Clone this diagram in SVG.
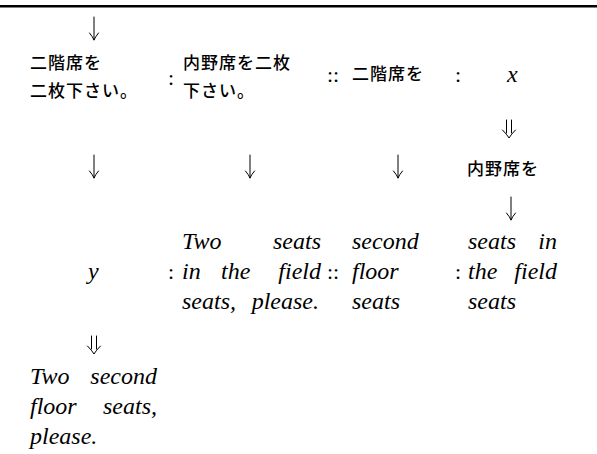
<svg xmlns="http://www.w3.org/2000/svg" xmlns:xlink="http://www.w3.org/1999/xlink" width="597" height="454" viewBox="0 0 597 454">
<style>
.jp{font-family:"Noto Sans CJK JP","Noto Sans CJK SC",sans-serif;font-size:17px;font-weight:500;letter-spacing:1px;fill:#000}
.en{font-family:"Liberation Serif","DejaVu Serif",serif;font-style:italic;font-size:24px;fill:#000}
.op{font-family:"Liberation Serif","DejaVu Serif",serif;font-size:22px;fill:#000}
.arr{fill:none;stroke:#000;stroke-width:1;stroke-linecap:round}
</style>
<defs>
<path id="dn" class="arr" d="M0,-23 V0 M-4.5,-7 Q-1.2,-3 0,0 Q1.2,-3 4.5,-7"/>
<path id="ddn" class="arr" d="M-2.5,-18 V-5 M2.5,-18 V-5 M-6.5,-8 Q-2,-3.5 0,0 Q2,-3.5 6.5,-8"/>
</defs>
<rect x="0" y="5" width="597" height="2.5" fill="#000"/>
<g id="connectors">
<use xlink:href="#dn" x="94" y="40"/>
<use xlink:href="#ddn" x="509" y="138"/>
<use xlink:href="#dn" x="94" y="178"/>
<use xlink:href="#dn" x="250" y="178"/>
<use xlink:href="#dn" x="398" y="178"/>
<use xlink:href="#dn" x="511" y="220"/>
<use xlink:href="#ddn" x="94" y="354"/>
</g>
<g id="n-jp1"><text class="jp" x="30" y="69">二階席を</text><text class="jp" x="30" y="97">二枚下さい。</text></g>
<g id="op1"><text class="op" x="168" y="85">:</text></g>
<g id="n-jp2"><text class="jp" x="183" y="69">内野席を二枚</text><text class="jp" x="183" y="97">下さい。</text></g>
<g id="op2"><text class="op" x="327" y="82">::</text></g>
<g id="n-jp3"><text class="jp" x="352" y="80">二階席を</text></g>
<g id="op3"><text class="op" x="455" y="82">:</text></g>
<g id="n-x"><text class="en" x="507" y="82">x</text></g>
<g id="n-jp4"><text class="jp" x="467" y="175">内野席を</text></g>
<g id="n-y"><text class="en" x="88" y="279">y</text></g>
<g id="op4"><text class="op" x="168" y="279">:</text></g>
<g id="n-en2">
<text class="en" x="182" y="249">Two</text><text class="en" x="321" y="249" text-anchor="end">seats</text>
<text class="en" x="182" y="279">in</text><text class="en" x="221" y="279">the</text><text class="en" x="321" y="279" text-anchor="end">field</text>
<text class="en" x="182" y="309">seats, <tspan x="319" text-anchor="end">please.</tspan></text>
</g>
<g id="op5"><text class="op" x="327" y="279">::</text></g>
<g id="n-en3">
<text class="en" x="352" y="249">second</text>
<text class="en" x="352" y="279">floor</text>
<text class="en" x="352" y="309">seats</text>
</g>
<g id="op6"><text class="op" x="455" y="279">:</text></g>
<g id="n-en4">
<text class="en" x="468" y="249">seats</text><text class="en" x="557" y="249" text-anchor="end">in</text>
<text class="en" x="468" y="279">the</text><text class="en" x="557" y="279" text-anchor="end">field</text>
<text class="en" x="468" y="309">seats</text>
</g>
<g id="n-result">
<text class="en" x="30" y="384">Two</text><text class="en" x="157" y="384" text-anchor="end">second</text>
<text class="en" x="30" y="414">floor</text><text class="en" x="157" y="414" text-anchor="end">seats,</text>
<text class="en" x="30" y="444">please.</text>
</g>
</svg>
